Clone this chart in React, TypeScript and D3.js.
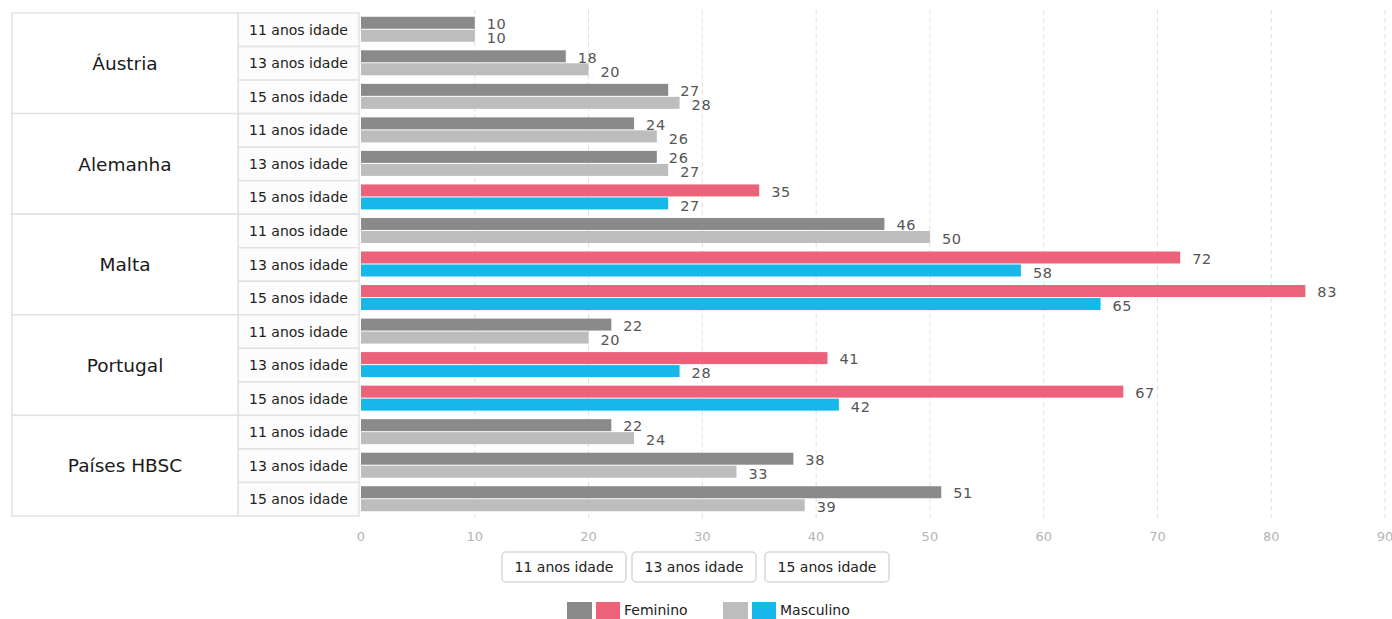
import React from "react";
import * as d3 from "d3";

// Percentages by country, age group and sex
const countries = ["Áustria", "Alemanha", "Malta", "Portugal", "Países HBSC"];
const ageGroups = ["11 anos idade", "13 anos idade", "15 anos idade"];
const feminino = [
  [10, 18, 27],
  [24, 26, 35],
  [46, 72, 83],
  [22, 41, 67],
  [22, 38, 51],
];
const masculino = [
  [10, 20, 28],
  [26, 27, 27],
  [50, 58, 65],
  [20, 28, 42],
  [24, 33, 39],
];
// Rows drawn in the highlight palette
const highlighted = [
  [false, false, false],
  [false, false, true],
  [false, true, true],
  [false, true, true],
  [false, false, false],
];
const xTicks = [0, 10, 20, 30, 40, 50, 60, 70, 80, 90];
const legendItems = ["Feminino", "Masculino"];

const W = 1392;
const H = 619;
const FONT = "'DejaVu Sans', Verdana, sans-serif";
const COLORS = {
  femGray: "#8a8a8a",
  masGray: "#bdbdbd",
  femHi: "#ec627a",
  masHi: "#17b7ea",
  border: "#e2e2e2",
  label: "#555",
};

type Row = {
  key: string;
  country: number;
  age: number;
  fem: number;
  mas: number;
  hi: boolean;
};

const rows: Row[] = [];
countries.forEach((c, ci) =>
  ageGroups.forEach((a, ai) =>
    rows.push({
      key: `${c}|${a}`,
      country: ci,
      age: ai,
      fem: feminino[ci][ai],
      mas: masculino[ci][ai],
      hi: highlighted[ci][ai],
    })
  )
);

export default function App() {
  const tableLeft = 12;
  const countryRight = 238;
  const subRight = 359;
  const top = 13;
  const bottom = 516;

  const x = d3.scaleLinear().domain([0, 90]).range([361, 1385]);
  const y = d3
    .scaleBand<string>()
    .domain(rows.map((r) => r.key))
    .range([top, bottom])
    .padding(0);
  const rowH = y.bandwidth();
  const barH = 12;

  return (
    <svg
      width={W}
      height={H}
      style={{ position: "absolute", left: 0, top: 0, background: "#fff" }}
      fontFamily={FONT}
    >
      {/* vertical grid */}
      {xTicks
        .filter((t) => t > 0)
        .map((t) => (
          <line
            key={`g${t}`}
            x1={x(t)}
            x2={x(t)}
            y1={10}
            y2={bottom + 2}
            stroke="#e0e0e0"
            strokeWidth={1}
            strokeDasharray="5,3"
          />
        ))}

      {/* sub-label column */}
      {rows.map((r) => (
        <g key={`s${r.key}`}>
          <rect
            x={countryRight}
            y={y(r.key)!}
            width={subRight - countryRight}
            height={rowH}
            fill="#fcfcfc"
            stroke={COLORS.border}
            strokeWidth={1.5}
          />
          <text
            x={(countryRight + subRight) / 2}
            y={y(r.key)! + rowH / 2}
            dy="0.36em"
            textAnchor="middle"
            fontSize={14}
            fill="#222"
          >
            {ageGroups[r.age]}
          </text>
        </g>
      ))}

      {/* country column */}
      {countries.map((c, ci) => {
        const y0 = y(rows[ci * 3].key)!;
        const y1 = y(rows[ci * 3 + 2].key)! + rowH;
        return (
          <g key={`c${c}`}>
            <rect
              x={tableLeft}
              y={y0}
              width={countryRight - tableLeft}
              height={y1 - y0}
              fill="#fff"
              stroke={COLORS.border}
              strokeWidth={1.5}
            />
            <text
              x={(tableLeft + countryRight) / 2}
              y={(y0 + y1) / 2}
              dy="0.36em"
              textAnchor="middle"
              fontSize={18.5}
              fill="#1a1a1a"
            >
              {c}
            </text>
          </g>
        );
      })}

      {/* bars */}
      {rows.map((r) => {
        const c = y(r.key)! + rowH / 2;
        const y1 = c - 13;
        const y2 = c;
        return (
          <g key={`b${r.key}`}>
            <rect
              x={x(0)}
              y={y1}
              width={x(r.fem) - x(0)}
              height={barH}
              fill={r.hi ? COLORS.femHi : COLORS.femGray}
            />
            <rect
              x={x(0)}
              y={y2}
              width={x(r.mas) - x(0)}
              height={barH}
              fill={r.hi ? COLORS.masHi : COLORS.masGray}
            />
            <text
              x={x(r.fem) + 12}
              y={y1 + barH / 2 + 1}
              dy="0.36em"
              fontSize={14.5}
              fill={COLORS.label}
              letterSpacing={0.6}
            >
              {r.fem}
            </text>
            <text
              x={x(r.mas) + 12}
              y={y2 + barH / 2 + 2}
              dy="0.36em"
              fontSize={14.5}
              fill={COLORS.label}
              letterSpacing={0.6}
            >
              {r.mas}
            </text>
          </g>
        );
      })}

      {/* x axis tick labels */}
      {xTicks.map((t) => (
        <text
          key={`t${t}`}
          x={x(t)}
          y={536}
          dy="0.36em"
          textAnchor="middle"
          fontSize={13}
          fill="#b5b5b5"
        >
          {t}
        </text>
      ))}

      {/* age group buttons */}
      {ageGroups.map((a, i) => {
        const bx = [502, 632, 765][i];
        const bw = 124;
        return (
          <g key={`btn${a}`}>
            <rect
              x={bx}
              y={552}
              width={bw}
              height={30}
              rx={4}
              fill="#fff"
              stroke="#d8d8d8"
              strokeWidth={1.5}
            />
            <text
              x={bx + bw / 2}
              y={567}
              dy="0.36em"
              textAnchor="middle"
              fontSize={14}
              fill="#222"
            >
              {a}
            </text>
          </g>
        );
      })}

      {/* sex legend */}
      {legendItems.map((name, i) => {
        const lx = [567, 723][i];
        const cols =
          i === 0 ? [COLORS.femGray, COLORS.femHi] : [COLORS.masGray, COLORS.masHi];
        return (
          <g key={`lg${name}`}>
            <rect x={lx} y={602} width={25} height={17} fill={cols[0]} />
            <rect x={lx + 29} y={602} width={24} height={17} fill={cols[1]} />
            <text x={lx + 57} y={610} dy="0.36em" fontSize={14} fill="#222">
              {name}
            </text>
          </g>
        );
      })}
    </svg>
  );
}
